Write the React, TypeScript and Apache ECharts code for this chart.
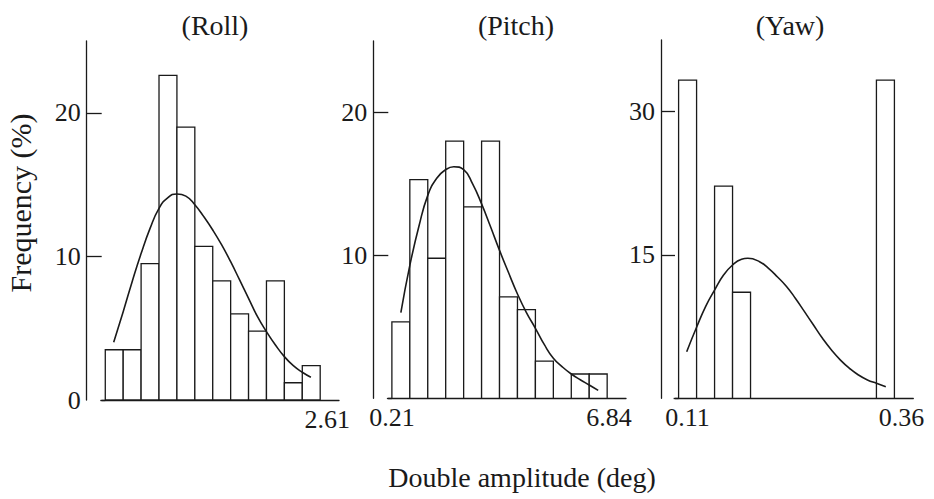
import React, { useEffect, useRef } from "react";
import * as echarts from "echarts";

// ---- Data (bin index units: bin i spans [i, i+1]) ----
const panelTitles = ["(Roll)", "(Pitch)", "(Yaw)"];

const rollFreq = [3.5, 3.5, 9.5, 22.6, 19.0, 10.7, 8.3, 6.0, 4.8, 8.3, 1.2, 2.4];
const pitchFreq = [5.35, 15.3, 9.8, 18.0, 13.4, 18.0, 7.1, 6.2, 2.6, 0, 1.7, 1.7];
const yawFreq = [33.3, 0, 22.2, 11.1, 0, 0, 0, 0, 0, 0, 0, 33.3];

const rollCurve = [
  [0.47, 4.02], [1, 6.15], [1.5, 8.24], [2, 10.2], [2.5, 11.95], [3, 13.35], [3.5, 14.1],
  [4, 14.35], [4.5, 14.2], [5, 13.6], [5.5, 12.77], [6, 11.84], [6.5, 10.8], [7, 9.63],
  [7.5, 8.36], [8, 7.08], [8.5, 5.8], [9, 4.76], [9.5, 3.83], [10, 3.02], [10.5, 2.39],
  [11, 1.93], [11.48, 1.58],
];
const pitchCurve = [
  [0.5, 6.0], [1, 9.3], [1.5, 12.0], [2, 14.2], [2.5, 15.4], [3, 16.0], [3.45, 16.2],
  [4, 16.0], [4.5, 15.0], [5, 13.6], [5.5, 12.0], [6, 10.35], [6.5, 8.8], [7, 7.3],
  [7.5, 6.0], [8, 4.9], [8.5, 3.75], [9, 2.8], [9.5, 2.2], [10, 1.7], [10.5, 1.3],
  [11, 0.93], [11.5, 0.55],
];
const yawCurve = [
  [0.45, 4.88], [1, 7.43], [1.5, 9.6], [2, 11.33], [2.5, 12.9], [3, 13.95], [3.5, 14.55],
  [3.85, 14.65], [4.5, 14.3], [5, 13.6], [5.5, 12.7], [6, 11.7], [6.5, 10.45], [7, 9.07],
  [7.5, 7.67], [8, 6.28], [8.5, 5.05], [9, 4.0], [9.5, 3.14], [10, 2.44], [10.5, 1.92],
  [11, 1.57], [11.52, 1.22],
];

const rollXLabels = ["2.61"];
const pitchXLabels = ["0.21", "6.84"];
const yawXLabels = ["0.11", "0.36"];

const rollYTicks = [0, 10, 20];
const pitchYTicks = [10, 20];
const yawYTicks = [15, 30];

const yMaxes = [25, 25, 37.5];

// ---- Layout / style ----
const FONT = "Liberation Serif, Times New Roman, serif";
const INK = "#1a1a1a";
const grids = [
  { left: 101.7, top: 41, width: 237.3, height: 359 },
  { left: 388.3, top: 41, width: 237.7, height: 357.3 },
  { left: 675, top: 40, width: 238.3, height: 358.3 },
];
const xLabelPositions = [[12.4], [0.0, 12.1], [0.5, 12.4]];
const titleCenters = [215, 516, 790];
const yOffsets = [15, 15, 14];

export default function App() {
  const ref = useRef<HTMLDivElement>(null);

  useEffect(() => {
    if (!ref.current) return;
    const chart = echarts.init(ref.current, null, { renderer: "svg" });

    const freqs = [rollFreq, pitchFreq, yawFreq];
    const curves = [rollCurve, pitchCurve, yawCurve];
    const xLabels = [rollXLabels, pitchXLabels, yawXLabels];
    const yTicks = [rollYTicks, pitchYTicks, yawYTicks];

    const xAxis: any[] = [];
    const yAxis: any[] = [];
    const series: any[] = [];

    for (let p = 0; p < 3; p++) {
      const labels = xLabels[p];
      const positions = xLabelPositions[p];
      xAxis.push({
        type: "value",
        gridIndex: p,
        min: -0.2,
        max: 13.05,
        splitLine: { show: false },
        axisLine: { show: true, lineStyle: { color: INK, width: 1.3 } },
        axisTick: { show: false },
        axisLabel: {
          customValues: positions,
          formatter: (v: number) => {
            let best = 0;
            for (let k = 1; k < positions.length; k++) {
              if (Math.abs(positions[k] - v) < Math.abs(positions[best] - v)) best = k;
            }
            return labels[best];
          },
          color: INK,
          fontFamily: FONT,
          fontSize: 26,
          margin: 6,
        },
      });
      const ticks = yTicks[p].filter((t) => t !== 0);
      yAxis.push({
        type: "value",
        gridIndex: p,
        min: 0,
        max: yMaxes[p],
        offset: yOffsets[p],
        splitLine: { show: false },
        axisLine: { show: true, onZero: false, lineStyle: { color: INK, width: 1.3 } },
        axisTick: {
          show: true,
          inside: true,
          length: yOffsets[p],
          customValues: ticks,
          lineStyle: { color: INK, width: 1.3 },
        },
        axisLabel: {
          customValues: yTicks[p],
          color: INK,
          fontFamily: FONT,
          fontSize: 26,
          margin: 6,
        },
      });
      // small foot at zero
      yAxis.push({
        type: "value",
        gridIndex: p,
        min: 0,
        max: yMaxes[p],
        offset: yOffsets[p],
        splitLine: { show: false },
        axisLine: { show: false },
        axisLabel: { show: false },
        axisTick: {
          show: true,
          inside: true,
          length: 5,
          customValues: [0],
          lineStyle: { color: INK, width: 1.3 },
        },
      });

      series.push({
        type: "custom",
        xAxisIndex: p,
        yAxisIndex: p * 2,
        encode: { x: 0, y: 1 },
        data: freqs[p].map((h, i) => [i, h]),
        renderItem: (params: any, api: any) => {
          const i = api.value(0);
          const h = api.value(1);
          if (!h) return { type: "group", children: [] };
          const a = api.coord([i, 0]);
          const b = api.coord([i + 1, h]);
          return {
            type: "rect",
            shape: { x: a[0], y: b[1], width: b[0] - a[0], height: a[1] - b[1] },
            style: { fill: "#ffffff", stroke: INK, lineWidth: 1.3 },
          };
        },
        z: 2,
      });
      series.push({
        type: "line",
        xAxisIndex: p,
        yAxisIndex: p * 2,
        data: curves[p],
        smooth: true,
        showSymbol: false,
        symbol: "none",
        lineStyle: { color: INK, width: 1.6 },
        z: 3,
      });
    }

    const graphic: any[] = panelTitles.map((t, i) => ({
      type: "text",
      x: titleCenters[i],
      y: 25,
      style: {
        text: t,
        fill: INK,
        font: `28px ${FONT}`,
        align: "center",
        verticalAlign: "middle",
      },
    }));
    graphic.push({
      type: "text",
      x: 522,
      y: 477,
      style: {
        text: "Double amplitude (deg)",
        fill: INK,
        font: `28px ${FONT}`,
        align: "center",
        verticalAlign: "middle",
      },
    });
    graphic.push({
      type: "text",
      x: 20,
      y: 203,
      rotation: Math.PI / 2,
      style: {
        text: "Frequency (%)",
        fill: INK,
        font: `30px ${FONT}`,
        align: "center",
        verticalAlign: "middle",
      },
    });

    chart.setOption({
      animation: false,
      backgroundColor: "#ffffff",
      grid: grids.map((g) => ({ ...g, containLabel: false })),
      xAxis,
      yAxis,
      series,
      graphic,
    });

    return () => chart.dispose();
  }, []);

  return (
    <div
      ref={ref}
      style={{ position: "fixed", left: 0, top: 0, width: 934, height: 499, background: "#fff" }}
    />
  );
}
